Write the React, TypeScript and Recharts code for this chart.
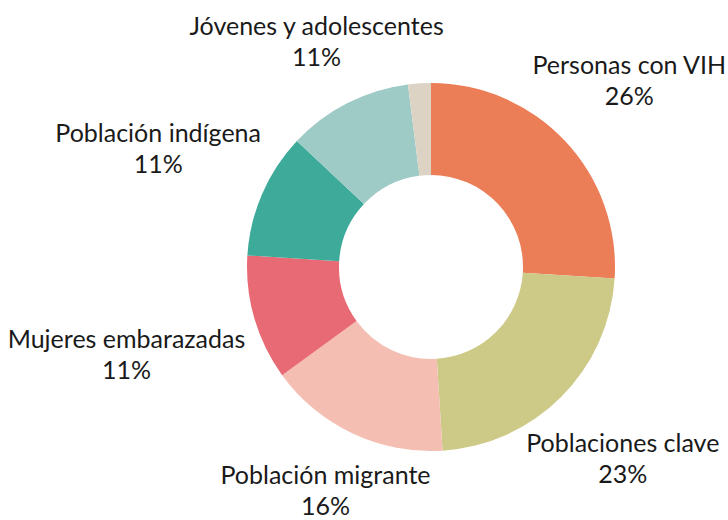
import { PieChart, Pie, Cell } from 'recharts';

const categories = [
  'Personas con VIH',
  'Poblaciones clave',
  'Población migrante',
  'Mujeres embarazadas',
  'Población indígena',
  'Jóvenes y adolescentes',
  'Otros',
];
const shares = [26, 23, 16, 11, 11, 11, 2];
const showLabel = [true, true, true, true, true, true, false];
const colors = ['#EB7D57', '#CDC987', '#F4BEB2', '#E86A75', '#3DAA9A', '#9FCBC6', '#DDD3C5'];

const data = categories.map((name, i) => ({ name, value: shares[i] }));

const FONT = '25px Lato, "Noto Sans", sans-serif';
const RAD = Math.PI / 180;

let ctx: CanvasRenderingContext2D | null = null;
const measure = (txt: string) => {
  if (!ctx) ctx = document.createElement('canvas').getContext('2d');
  if (!ctx) return txt.length * 12;
  ctx.font = FONT;
  return ctx.measureText(txt).width;
};

const renderLabel = (props: any) => {
  const { cx, cy, midAngle, index, name, percent } = props;
  if (!showLabel[index]) return null;
  const w = measure(name);
  const sin = Math.sin(-midAngle * RAD);
  const cos = Math.cos(-midAngle * RAD);
  // wider labels sit further out on the sides, labels near the top a bit closer in
  const up = Math.max(0, -sin);
  const r = 203 + Math.abs(cos) * (w / 2) - 18 * Math.pow(up, 6);
  const x = cx + r * cos;
  const y = cy + r * sin;
  return (
    <text x={x} y={y} textAnchor="middle" fill="#1a1a1a" style={{ font: FONT }}>
      <tspan x={x} dy={-7}>{name}</tspan>
      <tspan x={x} dy={31}>{`${Math.round(percent * 100)}%`}</tspan>
    </text>
  );
};

export default function App() {
  return (
    <div style={{ position: 'absolute', left: 0, top: 0 }}>
      <PieChart width={728} height={520} margin={{ top: 0, right: 0, bottom: 0, left: 0 }}>
        <Pie
          data={data}
          dataKey="value"
          nameKey="name"
          cx={431}
          cy={267}
          innerRadius={92}
          outerRadius={184}
          startAngle={90}
          endAngle={-270}
          stroke="none"
          label={renderLabel}
          labelLine={false}
          isAnimationActive={false}
        >
          {data.map((d, i) => (
            <Cell key={d.name} fill={colors[i]} />
          ))}
        </Pie>
      </PieChart>
    </div>
  );
}
